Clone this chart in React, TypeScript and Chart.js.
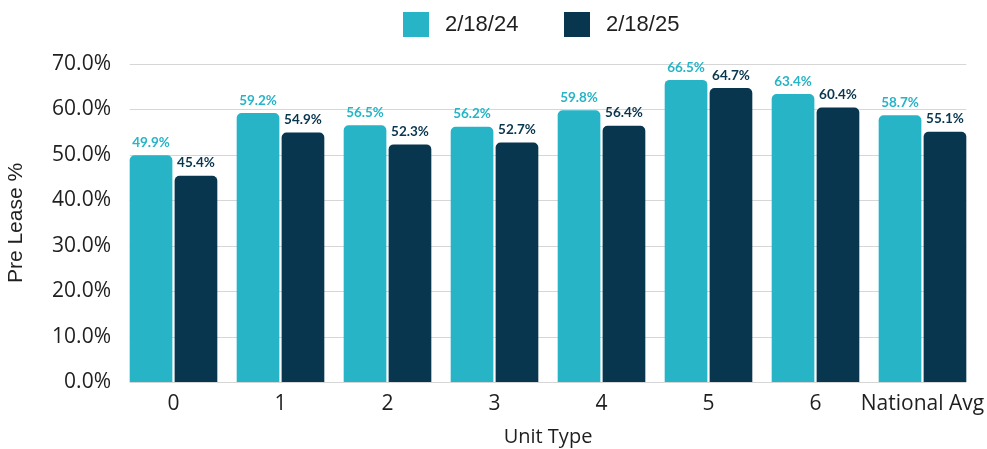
import React, { useEffect, useRef } from "react";
import { Chart, registerables } from "chart.js";

Chart.register(...registerables);

const categories = ["0", "1", "2", "3", "4", "5", "6", "National Avg"];
const seriesNames = ["2/18/24", "2/18/25"];
const values2024 = [49.9, 59.2, 56.5, 56.2, 59.8, 66.5, 63.4, 58.7];
const values2025 = [45.4, 54.9, 52.3, 52.7, 56.4, 64.7, 60.4, 55.1];
const yTicks = [0, 10, 20, 30, 40, 50, 60, 70];

const TEAL = "#26B4C6";
const NAVY = "#08364F";
const GRID = "#D6D6D6";
const TEXT = "#1F1F1F";
const AXIS_FONT = "Open Sans";

const gridPlugin = {
  id: "customGrid",
  beforeDatasetsDraw(chart: any) {
    const { ctx } = chart;
    const m0 = chart.getDatasetMeta(0).data;
    const m1 = chart.getDatasetMeta(1).data;
    if (!m0.length || !m1.length) return;
    const first = m0[0];
    const last = m1[m1.length - 1];
    const left = first.x - first.width / 2;
    const right = last.x + last.width / 2;
    const y = chart.scales.y;
    ctx.save();
    ctx.strokeStyle = GRID;
    ctx.lineWidth = 1;
    yTicks.forEach((t) => {
      const py = Math.round(y.getPixelForValue(t)) + 0.5;
      ctx.beginPath();
      ctx.moveTo(left, py);
      ctx.lineTo(right, py);
      ctx.stroke();
    });
    ctx.restore();
  },
};

const labelPlugin = {
  id: "barLabels",
  afterDatasetsDraw(chart: any) {
    const { ctx } = chart;
    ctx.save();
    ctx.font = "bold 13.5px Lato";
    ctx.textAlign = "center";
    ctx.textBaseline = "bottom";
    chart.data.datasets.forEach((ds: any, i: number) => {
      const meta = chart.getDatasetMeta(i);
      ctx.fillStyle = ds.backgroundColor;
      meta.data.forEach((bar: any, j: number) => {
        ctx.fillText(ds.data[j].toFixed(1) + "%", bar.x, bar.y - 6);
      });
    });
    ctx.restore();
  },
};

const legendPlugin = {
  id: "customLegend",
  afterDraw(chart: any) {
    const { ctx } = chart;
    const colors = [TEAL, NAVY];
    const boxX = [403, 564];
    ctx.save();
    ctx.font = "22px 'Liberation Sans'";
    ctx.textBaseline = "middle";
    ctx.textAlign = "left";
    seriesNames.forEach((name, i) => {
      ctx.fillStyle = colors[i];
      ctx.fillRect(boxX[i], 12, 26, 25);
      ctx.fillStyle = TEXT;
      ctx.fillText(name, boxX[i] + 42, 25);
    });
    ctx.restore();
  },
};

export default function App() {
  const ref = useRef<HTMLCanvasElement | null>(null);
  useEffect(() => {
    document.body.style.margin = "0";
    let chart: any = null;
    let cancelled = false;
    const make = () => {
      if (cancelled || !ref.current) return;
      chart = new Chart(ref.current as HTMLCanvasElement, {
        type: "bar",
        data: {
          labels: categories,
          datasets: [
            {
              label: seriesNames[0],
              data: values2024,
              backgroundColor: TEAL,
              borderRadius: { topLeft: 5, topRight: 5, bottomLeft: 0, bottomRight: 0 },
              borderSkipped: false,
              categoryPercentage: 0.84,
              barPercentage: 0.95,
            },
            {
              label: seriesNames[1],
              data: values2025,
              backgroundColor: NAVY,
              borderRadius: { topLeft: 5, topRight: 5, bottomLeft: 0, bottomRight: 0 },
              borderSkipped: false,
              categoryPercentage: 0.84,
              barPercentage: 0.95,
            },
          ],
        },
        options: {
          animation: false,
          responsive: false,
          maintainAspectRatio: false,
          layout: { padding: { left: 0, right: 11, top: 64, bottom: 0 } },
          plugins: {
            tooltip: { enabled: false },
            legend: { display: false },
          },
          scales: {
            x: {
              grid: { display: false, drawTicks: false },
              border: { display: false },
              ticks: {
                color: TEXT,
                font: { family: AXIS_FONT, size: 21 },
                padding: 9,
                autoSkip: false,
                maxRotation: 0,
              },
              title: {
                display: true,
                text: "Unit Type",
                color: TEXT,
                font: { family: AXIS_FONT, size: 20 },
                padding: { top: 2, bottom: 0 },
              },
              afterFit(scale: any) {
                scale.height = 67;
                scale.paddingLeft = 0;
                scale.paddingRight = 0;
              },
            },
            y: {
              min: 0,
              max: 70,
              grid: { display: false, drawTicks: false },
              border: { display: false },
              afterBuildTicks(scale: any) {
                scale.ticks = yTicks.map((v) => ({ value: v }));
              },
              ticks: {
                color: TEXT,
                font: { family: AXIS_FONT, size: 21 },
                padding: 9,
                callback: (v: any) => Number(v).toFixed(1) + "%",
              },
              title: {
                display: true,
                text: "Pre Lease %",
                color: TEXT,
                font: { family: "Liberation Sans", size: 21 },
                padding: { top: 4, bottom: 0 },
              },
              afterFit(scale: any) {
                scale.width = 120;
              },
            },
          },
        },
        plugins: [gridPlugin, labelPlugin, legendPlugin],
      });
    };
    const fonts = [
      "21px 'Open Sans'",
      "20px 'Open Sans'",
      "22px 'Liberation Sans'",
      "bold 13.5px Lato",
    ];
    Promise.all(fonts.map((f) => document.fonts.load(f)))
      .catch(() => null)
      .then(make);
    return () => {
      cancelled = true;
      if (chart) chart.destroy();
    };
  }, []);
  return (
    <div style={{ width: 987, height: 449 }}>
      <canvas ref={ref} width={987} height={449} style={{ display: "block" }} />
    </div>
  );
}
